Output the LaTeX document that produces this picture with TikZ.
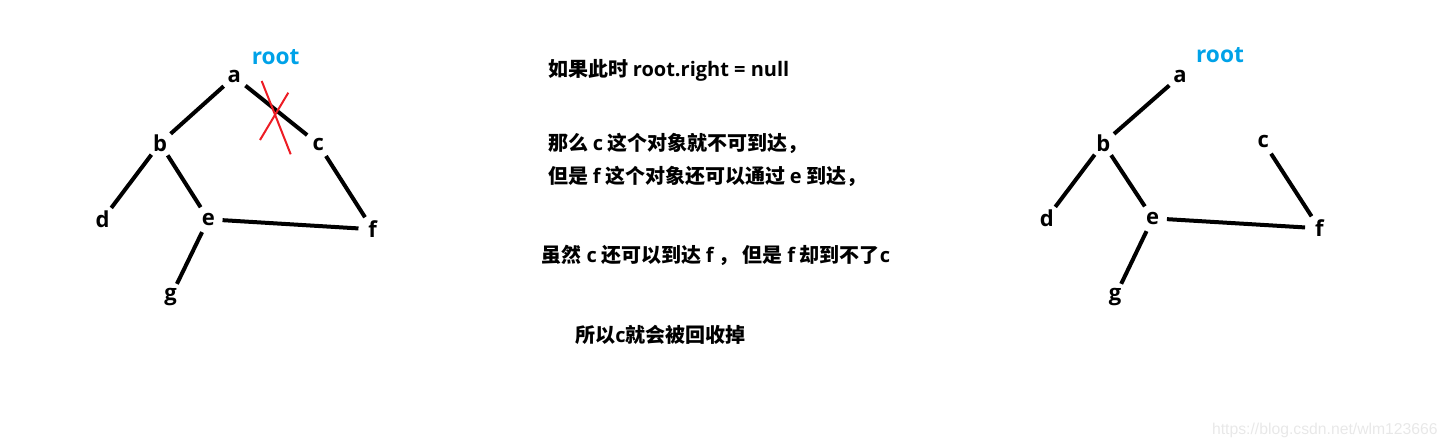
\documentclass[tikz,border=0pt]{standalone}
\usepackage{fontspec}
\newfontfamily\cjk{Noto Sans CJK SC}
\newfontfamily\lat{Open Sans}
\newfontfamily\wmfont{Liberation Sans}
\newcommand\lw[1]{{\lat\bfseries #1}}
\definecolor{rootblue}{HTML}{00A2E8}
\definecolor{crossred}{HTML}{ED1C24}
\definecolor{markgray}{HTML}{E8E8E8}
\begin{document}
\begin{tikzpicture}[x=0.75pt, y=-0.75pt,
		vtx/.style={circle, inner sep=0pt, minimum size=21pt, font=\lat\bfseries\fontsize{16.5}{20}\selectfont},
		edge/.style={line width=3pt},
		note/.style={anchor=west, inner sep=0pt, font=\cjk\bfseries\fontsize{15}{18}\selectfont},
		rootlabel/.style={text=rootblue, inner sep=0pt, font=\lat\bfseries\fontsize{17}{20}\selectfont}]
			\useasboundingbox (0,0) rectangle (1449,448);
			% left tree
			\node[rootlabel] (lroot) at (275.7,57.3) {root};
			\node[vtx] (la) at (234.3,76.7) {a};
			\node[vtx] (lb) at (160,143.3) {b};
			\node[vtx] (lc) at (318.3,144) {c};
			\node[vtx] (ld) at (102.7,219.3) {d};
			\node[vtx] (le) at (208.3,219.3) {e};
			\node[vtx] (lf) at (372.7,229.3) {f};
			\node[vtx] (lg) at (170.7,296.7) {g};
			\draw[edge] (la) -- (lb);
			\draw[edge] (la) -- (lc);
			\draw[edge] (lb) -- (ld);
			\draw[edge] (lb) -- (le);
			\draw[edge] (lc) -- (lf);
			\draw[edge] (le) -- (lf);
			\draw[edge] (le) -- (lg);
			\draw[crossred, line width=1.5pt] (261.7,81) -- (290.7,154.3);
			\draw[crossred, line width=1.5pt] (288.3,92.7) -- (260,140);
			% text
			\node[note] (t1) at (548,70) {如果此时 \lw{root.right = null}};
			\node[note] (t2) at (548,143.3) {那么 \lw{c} 这个对象就不可到达，};
			\node[note] (t3) at (548,176.7) {但是 \lw{f} 这个对象还可以通过 \lw{e} 到达，};
			\node[note] (t4) at (541.7,255) {虽然 \lw{c} 还可以到达 \lw{f} ， 但是 \lw{f} 却到不了\lw{c}};
			\node[note] (t5) at (575,335) {所以\lw{c}就会被回收掉};
			% right tree
			\node[rootlabel] (rroot) at (1220,55) {root};
			\node[vtx] (ra) at (1180,76) {a};
			\node[vtx] (rb) at (1103.3,143.3) {b};
			\node[vtx] (rc) at (1263.3,141.7) {c};
			\node[vtx] (rd) at (1046.7,218.3) {d};
			\node[vtx] (re) at (1152.7,218.3) {e};
			\node[vtx] (rf) at (1319.3,228.3) {f};
			\node[vtx] (rg) at (1115,296.7) {g};
			\draw[edge] (ra) -- (rb);
			\draw[edge] (rb) -- (rd);
			\draw[edge] (rb) -- (re);
			\draw[edge] (rc) -- (rf);
			\draw[edge] (re) -- (rf);
			\draw[edge] (re) -- (rg);
			\node[anchor=east, inner sep=0pt, text=markgray, font=\wmfont\fontsize{11.8}{13}\selectfont] (mark) at (1438,430) {https://blog.csdn.net/wlm123666};
		\end{tikzpicture}
\end{document}
